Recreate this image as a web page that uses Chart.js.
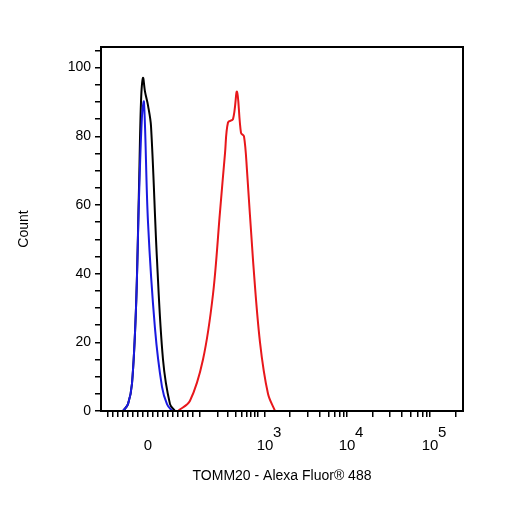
<!DOCTYPE html>
<html><head><meta charset="utf-8">
<script src="https://cdn.jsdelivr.net/npm/chart.js@4/dist/chart.umd.min.js"></script>
<style>html,body{margin:0;padding:0;background:#fff}#w{width:506px;height:506px}</style>
</head><body><div id="w"><canvas id="c"></canvas></div>
<script>
// x in display units (0 = the "0" tick of the biexponential axis)
const blackX = [-25,-20,-16,-12,-9,-7,-5,-3,0,3,9,15,22,27];
const blackY = [0,2,8,30,65,90,97,93,89,83,44,15,2,0];
const blueX  = [-25,-20,-16,-12,-9,-6,-4,0,7,14,19,24];
const blueY  = [0,2,8,30,62,86,90,55,24,7,2,0];
const redX   = [30,42,55,65,72,77,80,85,89,93,96,99,105,112,120,127];
const redY   = [0,3,15,34,58,75,84,85,93,81,80,70,44,20,5,0];
const xTickVals = [0,117,199,282];
const xTickBase = ['0','10','10','10'];
const xTickSup = ['','3','4','5'];
const yTicks = [0,20,40,60,80,100];
const pts=(xs,ys)=>xs.map((x,i)=>({x,y:ys[i]}));
const minorX=[-40,-35,-30,-25,-20,-15,-10,-5,5,10,15,20,25,30,35,40,45,52,70,80,88,94,99,103,107,110,142,160,172,181,187,192,196,225,242,254,263,270,275,279,308];
const frame={id:'frame',afterDraw(c){const a=c.chartArea,x=c.ctx;x.save();x.strokeStyle='#000';x.lineWidth=2;x.strokeRect(a.left,a.top,a.right-a.left,a.bottom-a.top);
 const sx=c.scales.x;x.fillStyle='#000';x.font='15px "Liberation Sans"';x.textBaseline='middle';x.textAlign='left';
 xTickVals.forEach((v,i)=>{if(xTickSup[i]){x.fillText(xTickSup[i],sx.getPixelForValue(v)+8,433);}});
 x.restore();}};
new Chart(document.getElementById('c'),{
 type:'scatter',
 data:{datasets:[
  {data:pts(redX,redY),borderColor:'#e8171b',showLine:true,tension:0.35,borderWidth:2,pointRadius:0},
  {data:pts(blueX,blueY),borderColor:'#1a1ae0',showLine:true,tension:0.35,borderWidth:2,pointRadius:0},
  {data:pts(blackX,blackY),borderColor:'#000',showLine:true,tension:0.35,borderWidth:2,pointRadius:0}
 ]},
 options:{responsive:true,maintainAspectRatio:false,animation:false,
  layout:{padding:{left:12,top:47,right:43,bottom:17}},
  plugins:{legend:{display:false},tooltip:{enabled:false}},
  scales:{
   x:{type:'linear',min:-47,max:315,
    afterFit(s){s.height=78;},
    afterBuildTicks(s){s.ticks=[...xTickVals,...minorX].sort((a,b)=>a-b).map(v=>({value:v}));},
    grid:{display:true,drawOnChartArea:false,tickLength:6,color:'#000',lineWidth:1.5},
    border:{color:'#000',width:2},
    ticks:{autoSkip:false,maxRotation:0,color:'#000',font:{family:'Liberation Sans',size:15},padding:20,
     callback(v){const i=xTickVals.indexOf(v);return i>=0?xTickBase[i]:'';}},
    title:{display:true,text:'TOMM20 - Alexa Fluor® 488',color:'#000',font:{family:'Liberation Sans',size:14},padding:{top:6}}
   },
   y:{min:0,max:106,
    afterFit(s){s.width=89;},
    afterBuildTicks(s){const t=[];for(let v=0;v<=105;v+=5)t.push({value:v});s.ticks=t;},
    grid:{display:true,drawOnChartArea:false,tickLength:6,color:'#000',lineWidth:1.5},
    border:{color:'#000',width:2},
    ticks:{autoSkip:false,color:'#000',font:{family:'Liberation Sans',size:14},padding:4,
     callback(v){return yTicks.includes(v)?String(v):'';}},
    title:{display:true,text:'Count',color:'#000',font:{family:'Liberation Sans',size:14},padding:{bottom:0}}
   }
  }},
 plugins:[frame]
});
</script></body></html>
